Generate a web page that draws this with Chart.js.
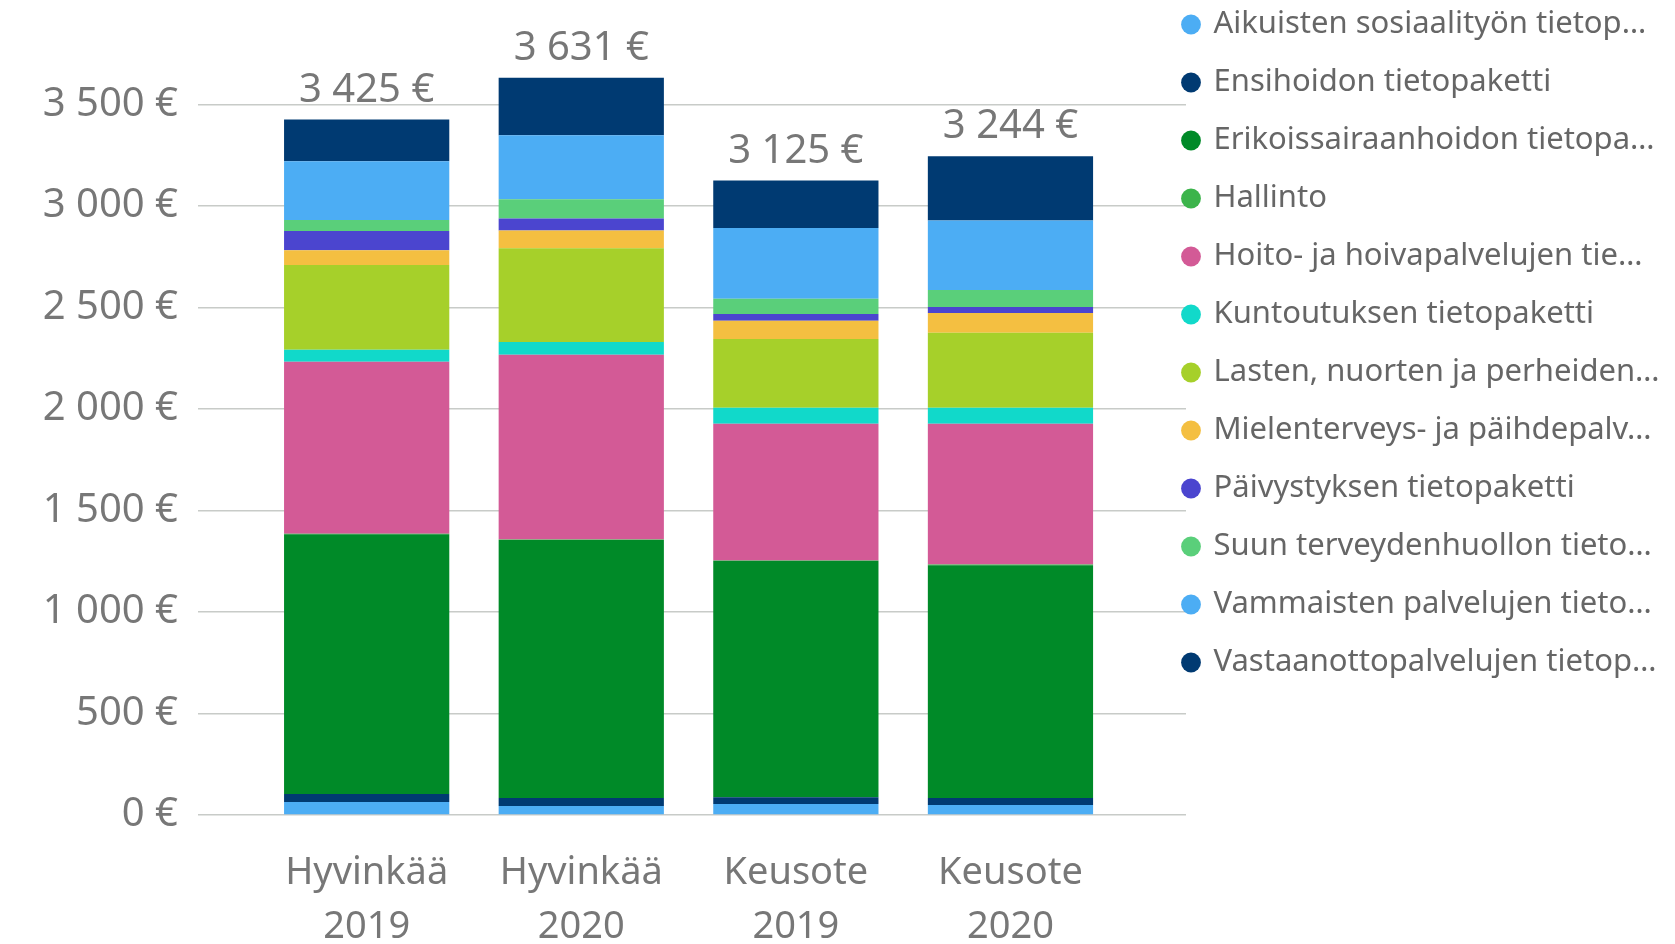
<!DOCTYPE html>
<html>
<head>
<meta charset="utf-8">
<script src="https://cdn.jsdelivr.net/npm/chart.js@4"></script>
<style>
  html, body { margin: 0; padding: 0; background: #fff; }
  #wrap { position: relative; width: 1675px; height: 944px; }
</style>
</head>
<body>
<div id="wrap"><canvas id="costChart"></canvas></div>
<script>
const categories = ['Hyvinkää 2019', 'Hyvinkää 2020', 'Keusote 2019', 'Keusote 2020'];

// legend texts as shown (already shortened in the original)
const seriesNames = [
    'Aikuisten sosiaalityön tietop…',
    'Ensihoidon tietopaketti',
    'Erikoissairaanhoidon tietopa…',
    'Hallinto',
    'Hoito- ja hoivapalvelujen tie…',
    'Kuntoutuksen tietopaketti',
    'Lasten, nuorten ja perheiden…',
    'Mielenterveys- ja päihdepalv…',
    'Päivystyksen tietopaketti',
    'Suun terveydenhuollon tieto…',
    'Vammaisten palvelujen tieto…',
    'Vastaanottopalvelujen tietop…'
];
const seriesColors = ['#4cadf4', '#003a72', '#008a28', '#3cb44b', '#d35a96', '#11d9ca',
                      '#a6d02a', '#f4bf41', '#4b45cf', '#5acf7a', '#4cadf4', '#003a72'];

const aikuiset      = [64, 44, 54, 49];
const ensihoito     = [39, 40, 34, 35];
const erikoissh     = [1280, 1271, 1164, 1146];
const hallinto      = [2, 2, 2, 4];
const hoitoHoiva    = [847, 910, 673, 693];
const kuntoutus     = [59, 63, 79, 79];
const lapsetPerheet = [418, 462, 339, 369];
const mielenterveys = [72, 87, 89, 98];
const paivystys     = [95, 59, 33, 29];
const suunTerveys   = [54, 95, 76, 84];
const vammaiset     = [290, 315, 348, 342];
const vastaanotto   = [205, 283, 234, 316];

const seriesValues = [aikuiset, ensihoito, erikoissh, hallinto, hoitoHoiva, kuntoutus,
                      lapsetPerheet, mielenterveys, paivystys, suunTerveys, vammaiset, vastaanotto];

const yTicks = [0, 500, 1000, 1500, 2000, 2500, 3000, 3500];

const FONT = '"Noto Sans", "Open Sans", sans-serif';

function euro(v) {
    return String(Math.round(v)).replace(/\B(?=(\d{3})+(?!\d))/g, ' ') + ' €';
}

// totals above each stacked column
const totalsPlugin = {
    id: 'totals',
    afterDatasetsDraw(chart) {
        const ctx = chart.ctx;
        const x = chart.scales.x, y = chart.scales.y;
        ctx.save();
        ctx.font = '40px ' + FONT;
        ctx.fillStyle = '#777';
        ctx.textAlign = 'center';
        ctx.textBaseline = 'alphabetic';
        categories.forEach((c, i) => {
            const total = seriesValues.reduce((s, arr) => s + arr[i], 0);
            ctx.fillText(euro(total), x.getPixelForValue(i), y.getPixelForValue(total) - 18);
        });
        ctx.restore();
    }
};

// pull the legend up/left so it sits where the original one does
const legendNudge = {
    id: 'legendNudge',
    afterLayout(chart) {
        chart.legend.left -= 29;
        chart.legend.top -= 29;
    }
};

new Chart(document.getElementById('costChart'), {
    type: 'bar',
    data: {
        labels: categories.map((c, i) => i),
        datasets: seriesNames.map((name, k) => ({
            label: name,
            data: seriesValues[k],
            backgroundColor: seriesColors[k],
            borderWidth: 0,
            categoryPercentage: 0.77,
            barPercentage: 1
        }))
    },
    options: {
        responsive: true,
        maintainAspectRatio: false,
        animation: false,
        layout: { padding: { top: 11, right: 0, bottom: 0, left: 0 } },
        plugins: {
            tooltip: { enabled: false },
            legend: {
                position: 'right',
                align: 'start',
                maxWidth: 489,
                labels: {
                    usePointStyle: true,
                    pointStyle: 'circle',
                    boxWidth: 14,
                    boxHeight: 14,
                    padding: 27,
                    color: '#666',
                    font: { family: FONT, size: 31 }
                }
            }
        },
        scales: {
            x: {
                type: 'linear',
                stacked: true,
                offset: false,
                min: -0.786,
                max: 3.818,
                grid: { display: false, offset: false },
                border: { display: false },
                afterBuildTicks(axis) {
                    axis.ticks = categories.map((c, i) => ({ value: i }));
                },
                afterFit(axis) {
                    axis.height = 129;
                    axis.paddingLeft = 0;
                    axis.paddingRight = 0;
                },
                ticks: {
                    autoSkip: false,
                    maxRotation: 0,
                    padding: 23,
                    color: '#777',
                    font: { family: FONT, size: 38, lineHeight: 1.42 },
                    callback: v => categories[v] ? categories[v].split(' ') : ''
                }
            },
            y: {
                stacked: true,
                min: 0,
                max: 3960,
                grid: { color: '#c8cbc8', lineWidth: 1.5, drawTicks: false },
                border: { display: false },
                afterBuildTicks(axis) {
                    axis.ticks = yTicks.map(v => ({ value: v }));
                },
                afterFit(axis) {
                    axis.width = 198;
                    axis.paddingTop = 0;
                    axis.paddingBottom = 0;
                },
                ticks: {
                    padding: 20,
                    color: '#777',
                    font: { family: FONT, size: 40 },
                    callback: v => euro(v)
                }
            }
        }
    },
    plugins: [totalsPlugin, legendNudge]
});
</script>
</body>
</html>
